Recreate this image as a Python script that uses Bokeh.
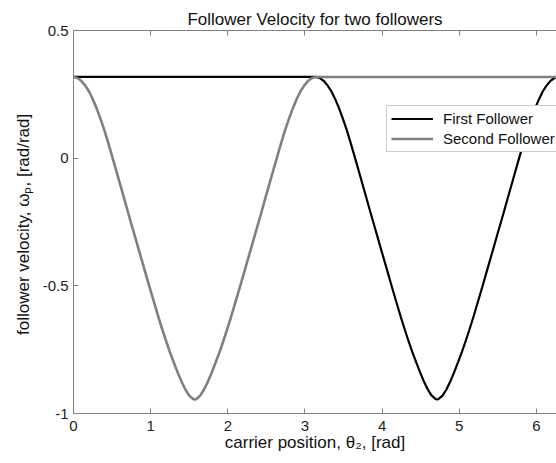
from bokeh.plotting import figure
from bokeh.models import LinearAxis, FixedTicker, Legend, LegendItem, Range1d
from bokeh.embed import file_html
from bokeh.resources import INLINE

# Carrier position theta_2 (rad) and follower angular velocity omega_p (rad/rad)
first_theta = [0.0,
               3.142, 3.192, 3.242, 3.292, 3.342, 3.392, 3.442, 3.492, 3.542, 3.592,
               3.642, 3.692, 3.742, 3.792, 3.842, 3.892, 3.942, 3.992, 4.042, 4.092,
               4.142, 4.192, 4.242, 4.292, 4.342, 4.392, 4.442, 4.492, 4.542, 4.592,
               4.642, 4.692, 4.712,
               4.733, 4.783, 4.833, 4.883, 4.933, 4.983, 5.033, 5.083, 5.133, 5.183,
               5.233, 5.283, 5.333, 5.383, 5.433, 5.483, 5.533, 5.583, 5.633, 5.683,
               5.733, 5.783, 5.833, 5.883, 5.933, 5.983, 6.033, 6.083, 6.133, 6.183,
               6.233, 6.283]
first_omega = [0.318,
               0.318, 0.314, 0.303, 0.285, 0.262, 0.231, 0.195, 0.154, 0.110, 0.060,
               0.008, -0.045, -0.098, -0.151, -0.205, -0.258, -0.310, -0.363, -0.415,
               -0.468, -0.520, -0.571, -0.622, -0.670, -0.716, -0.760, -0.800, -0.839,
               -0.875, -0.906, -0.930, -0.943, -0.945,
               -0.943, -0.930, -0.906, -0.875, -0.839, -0.800, -0.760, -0.716, -0.670,
               -0.622, -0.571, -0.520, -0.468, -0.415, -0.363, -0.310, -0.258, -0.205,
               -0.151, -0.098, -0.045, 0.008, 0.060, 0.110, 0.154, 0.195, 0.231,
               0.262, 0.285, 0.303, 0.314, 0.318]

second_theta = [0.0, 0.05, 0.10, 0.15, 0.20, 0.25, 0.30, 0.35, 0.40, 0.45,
                0.50, 0.55, 0.60, 0.65, 0.70, 0.75, 0.80, 0.85, 0.90, 0.95,
                1.00, 1.05, 1.10, 1.15, 1.20, 1.25, 1.30, 1.35, 1.40, 1.45,
                1.50, 1.55, 1.571,
                1.592, 1.642, 1.692, 1.742, 1.792, 1.842, 1.892, 1.942, 1.992, 2.042,
                2.092, 2.142, 2.192, 2.242, 2.292, 2.342, 2.392, 2.442, 2.492, 2.542,
                2.592, 2.642, 2.692, 2.742, 2.792, 2.842, 2.892, 2.942, 2.992, 3.042,
                3.092, 3.142,
                6.283]
second_omega = [0.318, 0.314, 0.303, 0.285, 0.262, 0.231, 0.195, 0.154, 0.110, 0.060,
                0.008, -0.045, -0.098, -0.151, -0.205, -0.258, -0.310, -0.363, -0.415,
                -0.468, -0.520, -0.571, -0.622, -0.670, -0.716, -0.760, -0.800, -0.839,
                -0.875, -0.906, -0.930, -0.943, -0.945,
                -0.943, -0.930, -0.906, -0.875, -0.839, -0.800, -0.760, -0.716, -0.670,
                -0.622, -0.571, -0.520, -0.468, -0.415, -0.363, -0.310, -0.258, -0.205,
                -0.151, -0.098, -0.045, 0.008, 0.060, 0.110, 0.154, 0.195, 0.231,
                0.262, 0.285, 0.303, 0.314, 0.318,
                0.318]

x_ticks = [0, 1, 2, 3, 4, 5, 6]
y_ticks = [-1, -0.5, 0, 0.5]
y_tick_labels = ["-1", "-0.5", "0", "0.5"]

FONT = "Liberation Sans"
AXIS_COLOR = "#808080"

p = figure(width=556, height=463, output_backend="svg", toolbar_location=None,
           x_range=Range1d(0, 6.26), y_range=Range1d(-1, 0.5),
           min_border_left=73, min_border_right=0, min_border_top=30,
           min_border_bottom=50, x_axis_location=None, y_axis_location=None,
           title="Follower Velocity for two followers")

p.title.align = "center"
p.title.text_font = FONT
p.title.text_font_size = "17px"
p.title.text_font_style = "normal"
p.title.text_color = "#111111"
p.title.standoff = 4

p.outline_line_color = None
p.grid.visible = False
p.background_fill_color = "white"
p.border_fill_color = "white"


def style_axis(ax):
    ax.axis_line_color = AXIS_COLOR
    ax.major_tick_line_color = AXIS_COLOR
    ax.major_tick_in = 5
    ax.major_tick_out = 0
    ax.minor_tick_line_color = None
    ax.major_label_text_font = FONT
    ax.major_label_text_font_size = "15px"
    ax.major_label_text_color = "#222222"
    ax.axis_label_text_font = FONT
    ax.axis_label_text_font_size = "17px"
    ax.axis_label_text_font_style = "normal"
    ax.axis_label_text_color = "#111111"


xb = LinearAxis(ticker=FixedTicker(ticks=x_ticks),
                axis_label="carrier position, \u03b8\u2082, [rad]")
style_axis(xb)
xb.major_label_standoff = 7
xb.axis_label_standoff = -1
p.add_layout(xb, "below")

yl = LinearAxis(ticker=FixedTicker(ticks=y_ticks),
                axis_label="follower velocity,  \u03c9\u209a, [rad/rad]")
style_axis(yl)
yl.major_label_overrides = {t: s for t, s in zip(y_ticks, y_tick_labels)}
yl.major_label_standoff = 5
yl.axis_label_standoff = 7
p.add_layout(yl, "left")

# top border with inward ticks
xt = LinearAxis(ticker=FixedTicker(ticks=x_ticks))
style_axis(xt)
xt.major_label_text_font_size = "0px"
xt.major_label_standoff = 0
p.add_layout(xt, "above")

r1 = p.line(first_theta, first_omega, line_color="black", line_width=2.2,
            line_join="round")
r2 = p.line(second_theta, second_omega, line_color="#808080", line_width=2.6,
            line_join="round")

legend = Legend(items=[LegendItem(label="First Follower", renderers=[r1]),
                       LegendItem(label="Second Follower", renderers=[r2])],
                location=(313, 261), orientation="vertical")
legend.label_text_font = FONT
legend.label_text_font_size = "15px"
legend.label_text_color = "#111111"
legend.glyph_width = 42
legend.glyph_height = 15
legend.label_height = 15
legend.label_standoff = 10
legend.spacing = 3
legend.padding = 4
legend.margin = 0
legend.border_line_color = "#999999"
legend.border_line_width = 1
legend.background_fill_color = "white"
legend.background_fill_alpha = 1
p.add_layout(legend, "center")

open("out.html", "w").write(file_html(p, INLINE))
